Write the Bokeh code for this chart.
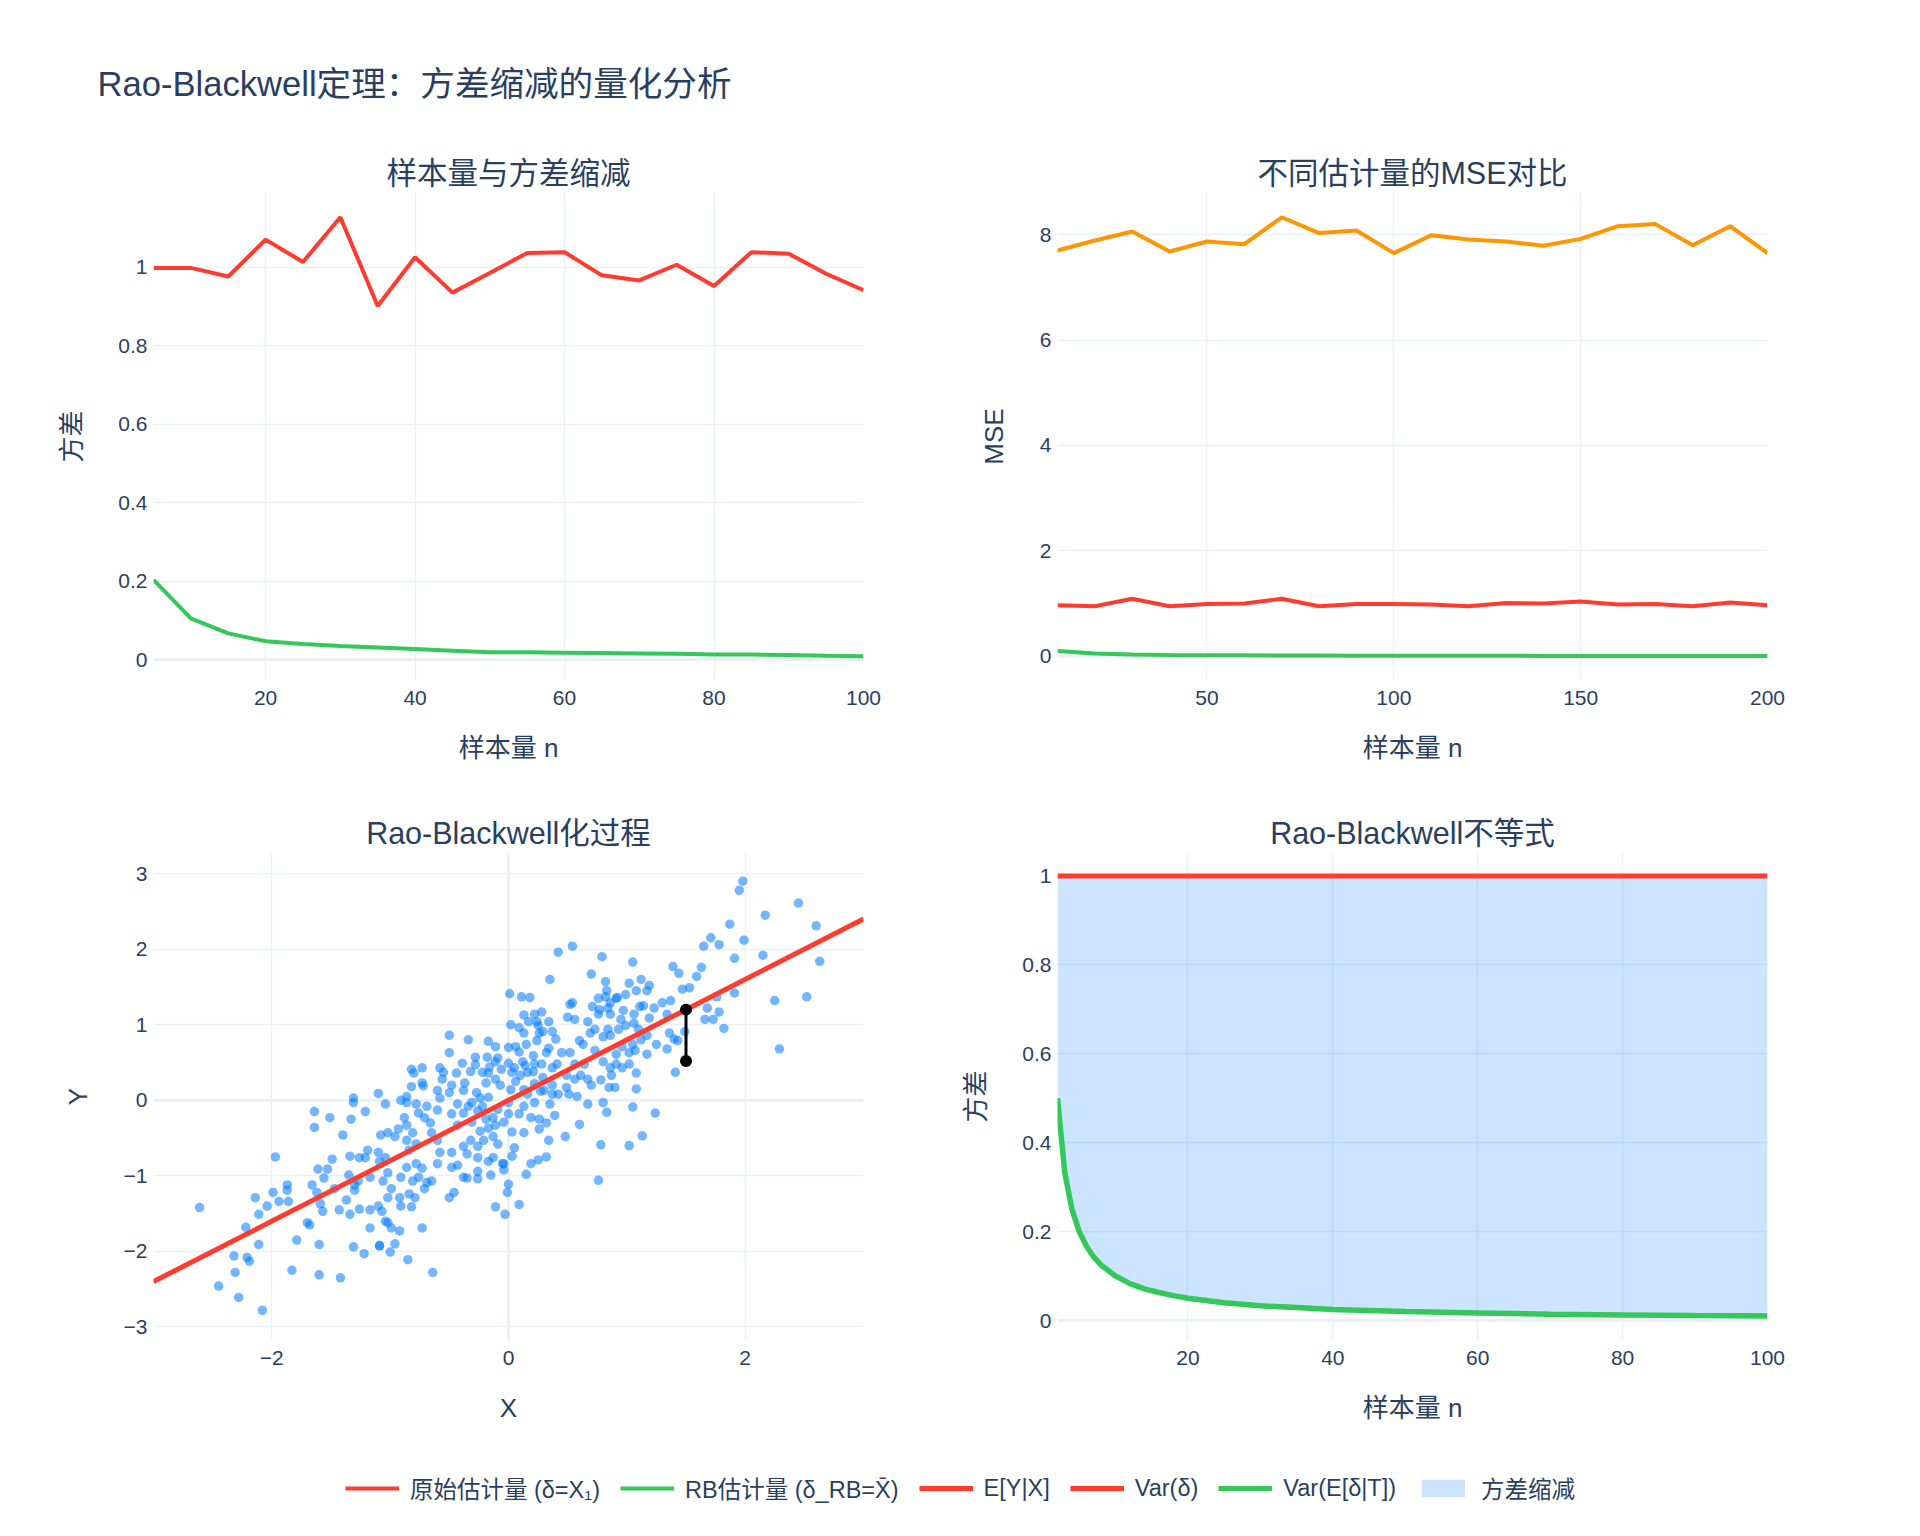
from bokeh.plotting import figure
from bokeh.models import (Range1d, Legend, LegendItem, Label, Span, FixedTicker,
                          CustomJSTickFormatter)
from bokeh.layouts import column, row
from bokeh.embed import file_html
from bokeh.resources import INLINE

# ---------------- data ----------------
# Panel 1: sample size vs variance
n1 = [5, 10, 15, 20, 25, 30, 35, 40, 45, 50, 55, 60, 65, 70, 75, 80, 85, 90, 95, 100]
var_orig1 = [0.998, 0.998, 0.976, 1.070, 1.013, 1.127, 0.901, 1.025, 0.935, 0.985,
             1.036, 1.038, 0.979, 0.966, 1.006, 0.952, 1.038, 1.034, 0.983, 0.941]
var_rb1 = [0.203, 0.105, 0.067, 0.047, 0.040, 0.035, 0.031, 0.027, 0.023, 0.019,
           0.019, 0.018, 0.017, 0.016, 0.015, 0.0135, 0.013, 0.012, 0.010, 0.0085]

# Panel 2: MSE comparison
n2 = [10, 20, 30, 40, 50, 60, 70, 80, 90, 100, 110, 120, 130, 140, 150, 160, 170, 180, 190, 200]
mse_other2 = [7.70, 7.89, 8.06, 7.68, 7.87, 7.82, 8.33, 8.03, 8.08, 7.65,
              7.99, 7.91, 7.87, 7.79, 7.92, 8.16, 8.20, 7.80, 8.16, 7.65]
mse_orig2 = [0.97, 0.95, 1.09, 0.95, 0.99, 1.00, 1.09, 0.95, 0.99, 0.99,
             0.98, 0.95, 1.01, 1.00, 1.04, 0.98, 0.99, 0.95, 1.02, 0.97]
mse_rb2 = [0.100, 0.052, 0.034, 0.026, 0.020, 0.017, 0.014, 0.013, 0.011, 0.010,
           0.009, 0.0085, 0.0078, 0.0072, 0.0068, 0.0063, 0.0059, 0.0056, 0.0052, 0.0050]

# Panel 3: Rao-Blackwellization scatter
sx = [1.98, 1.95, 2.45, 2.17, 2.60, 1.87, 1.99, 1.71, 1.65, 1.78, 2.15, 1.91, 2.63, 1.63, 1.59,
      1.39, 1.44, 1.53, 1.47, 1.91, 2.25, 2.52, 1.76, 1.68, 1.78, 1.66, 1.73, 1.82, 2.29, 1.40,
      1.43, 1.34, 1.41, 1.36, 1.49, 1.14, 1.23, 1.34, 1.30, 1.37, 1.05, 0.79, 0.70, 0.82, 0.83,
      1.02, 1.12, 1.19, 1.08, 1.17, 0.99, 0.91, 0.76, 0.71, 0.77, 0.86, 0.97, 1.06, 0.95, 1.06,
      1.19, 1.10, 1.17, 1.25, 1.02, 1.07, 1.17, 1.02, 1.08, 1.08, 1.05, 1.24, 1.13, 1.02, 0.78,
      0.83, 0.80, 0.76, 0.60, 0.48, 0.90, 0.85, 0.78, 0.86, 0.80, 0.91, 0.73, 0.84, 0.73, 0.63,
      0.61, 0.64, 0.56, 0.49, 0.67, 0.58, 0.51, 0.60, 0.56, 0.50, 0.54, 0.52, 0.35, 0.42, 0.54,
      0.37, 0.40, 0.32, 0.45, 0.52, 0.28, 0.37, 0.41, 0.29, 0.37, 0.42, 0.35, 0.39, 0.32, 0.34,
      0.32, 0.25, 0.15, 0.19, 0.09, -0.03, -0.01, 0.00, -0.11, 0.28, 0.24, 0.17, 0.22, 0.18,
      0.11, 0.01, 0.02, 0.13, 0.26, 0.15, 0.06, 0.00, 0.09, 0.12, 0.05, 0.03, 0.10, 0.16, 0.21,
      0.22, 0.27, 0.16, 0.22, 0.13, 0.09, 0.19, 0.26, 0.26, 0.13, 0.03, 0.05, 0.03, -0.04, -0.04,
      -0.09, -0.13, -0.04, 0.00, -0.09, 0.00, 0.02, -0.07, -0.11, -0.06, 0.00, -0.09, -0.11,
      -0.17, -0.34, -0.50, -0.50, -0.39, -0.28, -0.17, -0.32, -0.44, -0.55, -0.48, -0.56, -0.60,
      -0.58, -0.38, -0.31, -0.24, -0.17, -0.22, -0.26, -0.34, -0.38, -0.31, -0.19, -0.13, -0.11,
      -0.17, -0.24, -0.21, -0.26, -0.32, -0.38, -0.35, -0.26, -0.17, -0.13, -0.05, -0.15, -0.26,
      -0.35, -0.38, -0.26, -0.48, -0.48, -0.43, -0.50, -0.46, -0.64, -0.73, -0.65, -0.69, -0.71,
      -0.60, -0.58, -0.60, -0.65, -0.66, -0.71, -0.76, -0.69, -0.78, -0.73, -0.82, -0.80, -0.82,
      -0.73, -0.81, -0.78, -0.86, -0.84, -0.78, -0.73, -0.76, -0.81, -0.86, -0.91, -0.84, -0.79,
      -0.92, -0.91, -0.82, -0.85, -0.92, -0.96, -1.00, -1.09, -0.99, -1.02, -1.04, -1.17, -1.10,
      -1.07, -1.17, -1.26, -1.34, -1.37, -1.30, -1.30, -1.35, -1.27, -1.17, -1.06, -0.99, -1.02,
      -1.02, -1.04, -1.09, -1.10, -1.19, -1.21, -1.26, -1.34, -1.08, -1.02, -0.96, -0.93, -0.86,
      -0.88, -0.86, -0.91, -1.04, -1.10, -1.21, -1.31, -1.31, -1.33, -1.40, -1.51, -1.64, -1.64,
      -1.49, -1.61, -1.53, -1.56, -1.66, -1.62, -1.59, -1.57, -1.43, -1.47, -1.70, -1.68, -1.79,
      -1.83, -1.60, -1.60, -1.42, -1.31, -1.22, -1.09, -1.87, -1.87, -1.86, -1.97, -1.99, -2.04,
      -1.94, -2.11, -2.14, -2.22, -2.11, -2.21, -2.19, -2.32, -2.31, -2.45, -2.28, -2.08, -2.61,
      -0.50, -0.58, -0.72, -0.86, -0.60, -0.43, -0.48, -0.43, -0.37, -0.27, -0.19, -0.16, -0.22,
      -0.28, -0.18, -0.11, 0.09, 0.13, 0.25, 0.34, 0.29, 0.24, 0.34, 0.21, 0.14, 0.22, 0.06,
      0.13, 0.30, 0.37, 0.49, 0.56, 0.67, 0.70, 0.87, 0.96, 0.91, 0.96, 1.05, 1.12, 0.86, 0.80,
      0.69, 0.67, 0.76, 0.84, 0.86, 0.92, 0.82, 1.11, 0.93, 0.99]
sy = [2.90, 2.78, 2.61, 2.45, 2.31, 2.33, 2.12, 2.15, 2.04, 2.06, 1.92, 1.88, 1.84, 1.76, 1.64,
      1.77, 1.68, 1.49, 1.47, 1.42, 1.32, 1.37, 1.37, 1.22, 1.17, 1.07, 1.07, 0.95, 0.68, 0.81,
      0.79, 0.68, 0.37, 0.89, 0.91, 1.25, 1.22, 1.14, 1.29, 1.32, 1.83, 1.90, 1.67, 1.57, 1.45,
      1.55, 1.60, 1.52, 1.45, 1.45, 1.40, 1.35, 1.35, 1.24, 1.20, 1.14, 1.19, 1.14, 1.07, 1.02,
      1.09, 0.94, 0.86, 0.74, 0.63, 0.66, 0.61, 0.48, 0.36, 0.15, -0.09, -0.17, -0.47, -0.60, -0.59,
      -0.16, -0.03, -1.06, -0.32, -0.48, 0.17, 0.17, 0.27, 0.43, 0.51, 0.61, 0.94, 0.94, 0.66, 0.74,
      0.33, 0.48, 0.48, 0.33, -0.05, 0.05, 0.08, 0.79, 1.07, 1.10, 1.29, 1.27, 1.60, 1.96, 2.04,
      0.91, 0.81, 0.63, 0.63, 0.63, 0.48, 0.43, 0.48, 0.30, 0.20, 0.08, -0.05, -0.20, -0.30, -0.53,
      -0.75, -0.79, -0.98, -0.84, -1.38, -1.51, -1.22, -1.11, -1.41, 1.17, 1.04, 1.04, 1.14, 1.36,
      1.37, 1.41, 1.00, 0.89, 0.89, 0.74, 0.71, 0.70, 0.64, 0.51, 0.43, 0.37, 0.33, 0.37, 0.38,
      0.22, 0.12, 0.08, -0.03, -0.08, -0.18, -0.23, -0.25, -0.38, -0.43, -0.42, -0.63, -0.74, -0.92,
      -0.84, -0.58, -0.48, -0.29, -0.18, -0.12, -0.03, 0.14, 0.20, 0.28, 0.41, 0.49, 0.56, 0.71,
      0.78, 0.80, 0.86, 0.63, 0.49, 0.47, 0.36, 0.38, 0.36, 0.37, 0.20, 0.28, 0.13,
      0.03, 0.13, -0.03, 0.03, 0.04, -0.08, -0.14, -0.08, -0.17, -0.29, -0.25, -0.23, -0.33,
      -0.37, -0.41, -0.53, -0.61, -0.53, -0.61, -0.71, -0.76, -0.81, -0.76, -0.84, -0.99, -1.04,
      -1.03, -1.02, -0.94, -0.69, -0.89, -0.86, -1.29, -1.22, -2.28, -1.69, -1.07, -1.09, -1.17,
      -0.84, -0.69, -0.53, -0.43, -0.30, -0.23, -0.17, -0.08, -0.05, 0.23, 0.18, 0.36, 0.41,
      0.43, -0.43, -0.58, -0.53, -0.66, -0.84, -0.90, -1.02, -1.07, -0.89, -1.02, -1.24, -1.29,
      -1.29, -1.40, -1.41, -2.11, -1.73, -1.90, -2.01, -1.93, -1.69, -1.62, -1.60, -1.69, -1.40,
      -1.47, -1.45, -1.44, -1.51, -1.32, -1.19, -1.12, -0.99, -1.07, -1.02, -1.07, -1.17, -1.29,
      -0.96, -0.76, -0.81, -0.69, -0.66, -0.76, -0.76, -0.74, -0.46, -0.43, -0.48, -0.38, -0.33,
      -0.23, -0.03, 0.00, -0.05, 0.09, -0.15, 0.03, -0.03, -0.25, -0.46, -0.23, -0.15, -0.36,
      -0.78, -0.91, -0.91, -1.03, -1.12, -1.22, -1.37, -1.47, -1.45, -1.17, -1.62, -1.65, -1.85,
      -2.25, -1.91, -2.31, -2.35, -1.94, -2.03, -1.92, -1.12, -1.19, -1.34, -0.75, -1.22, -1.40,
      -1.34, -1.51, -1.29, -1.68, -1.91, -2.08, -2.13, -2.06, -2.28, -2.46, -2.61, -2.78, -1.42,
      0.10, 0.43, 0.19, 0.05, -0.13, -0.33, -0.18, -0.05, 0.23, 0.10, 0.23, 0.44, 0.37,
      0.57, 0.57, 0.51, 0.96, 1.13, 0.99, 1.04, 0.91, 0.79, 0.69, 0.59, 0.46, 0.48, 0.25,
      0.14, 0.13, 0.08, 0.17, 0.28, 0.28, 0.20, 0.33, 0.43, 0.48, 0.71, 0.74, 0.80, 0.86, 0.84,
      0.89, 1.04, 1.14, 1.22, 1.29, 1.36, 1.37, 1.24, 0.94, 0.99]
line_x3 = [-3.0, 3.0]
line_y3 = [-2.4, 2.4]
seg_x3 = [1.5, 1.5]
seg_y3 = [1.20, 0.52]

# Panel 4: Rao-Blackwell inequality
n4 = [2, 3, 4, 5, 6, 7, 8, 10, 12, 14, 16, 18, 20, 25, 30, 35, 40, 50, 60, 70, 80, 90, 100]
var_orig4 = [1.0] * len(n4)
var_rb4 = [0.50, 0.333, 0.25, 0.20, 0.167, 0.143, 0.125, 0.100, 0.083, 0.071, 0.063, 0.056,
           0.050, 0.040, 0.033, 0.029, 0.025, 0.020, 0.017, 0.014, 0.0125, 0.011, 0.010]

legend_labels = ["原始估计量 (δ=X₁)", "RB估计量 (δ_RB=X̄)", "E[Y|X]", "Var(δ)",
                 "Var(E[δ|T])", "方差缩减"]

# ---------------- style ----------------
FONT = "Liberation Sans, Noto Sans CJK SC"
TXT = "#2a3f5f"
GRID = "#EBF0F8"
RED = "#FF3B30"
GREEN = "#34C759"
ORANGE = "#FF9500"
BLUE = "#007AFF"

fmt = CustomJSTickFormatter(code="""
const v = Math.round(tick * 1000) / 1000;
const s = String(Math.abs(v));
return v < 0 ? "\\u2212" + s : s;
""")


def make_fig(title, xr, yr, xticks, yticks, xlabel, ylabel, left, right, top, bottom,
             zero_x=False):
    p = figure(frame_width=710, frame_height=488, x_range=Range1d(*xr), y_range=Range1d(*yr),
               output_backend="svg", toolbar_location=None,
               min_border_left=left, min_border_right=right,
               min_border_top=top, min_border_bottom=bottom,
               background_fill_color="white", border_fill_color="white",
               outline_line_color=None)
    p.title.text = title
    p.title.align = "center"
    p.title.text_font = FONT
    p.title.text_font_size = "30.5px"
    p.title.text_font_style = "normal"
    p.title.text_color = TXT
    p.title.standoff = 6
    for ax in (p.xaxis[0], p.yaxis[0]):
        ax.axis_line_color = None
        ax.major_tick_line_color = None
        ax.minor_tick_line_color = None
        ax.major_tick_out = 0
        ax.major_tick_in = 0
        ax.minor_tick_out = 0
        ax.minor_tick_in = 0
        ax.major_label_text_font = FONT
        ax.major_label_text_font_size = "21px"
        ax.major_label_text_color = TXT
        ax.axis_label_text_font = FONT
        ax.axis_label_text_font_size = "26px"
        ax.axis_label_text_font_style = "normal"
        ax.axis_label_text_color = TXT
        ax.formatter = fmt
    p.xaxis[0].ticker = FixedTicker(ticks=xticks)
    p.yaxis[0].ticker = FixedTicker(ticks=yticks)
    p.xaxis[0].axis_label = xlabel
    p.yaxis[0].axis_label = ylabel
    p.xaxis[0].major_label_standoff = 10
    p.yaxis[0].major_label_standoff = 6
    p.xaxis[0].axis_label_standoff = 25
    p.yaxis[0].axis_label_standoff = 28
    p.xgrid.grid_line_color = GRID
    p.ygrid.grid_line_color = GRID
    p.xgrid.grid_line_width = 1.5
    p.ygrid.grid_line_width = 1.5
    p.add_layout(Span(location=0, dimension="width", line_color=GRID, line_width=3,
                      level="underlay"))
    if zero_x:
        p.add_layout(Span(location=0, dimension="height", line_color=GRID, line_width=3,
                          level="underlay"))
    return p


# Panel 1
p1 = make_fig("样本量与方差缩减", (5, 100), (-0.053, 1.19), [20, 40, 60, 80, 100],
              [0, 0.2, 0.4, 0.6, 0.8, 1], "样本量 n", "方差", 153, 70, 72, 86)
p1.line(n1, var_orig1, line_color=RED, line_width=4)
p1.line(n1, var_rb1, line_color=GREEN, line_width=4)

# Panel 2
p2 = make_fig("不同估计量的MSE对比", (10, 200), (-0.46, 8.80), [50, 100, 150, 200],
              [0, 2, 4, 6, 8], "样本量 n", "MSE", 124, 153, 72, 86)
p2.line(n2, mse_other2, line_color=ORANGE, line_width=4)
p2.line(n2, mse_orig2, line_color=RED, line_width=4)
p2.line(n2, mse_rb2, line_color=GREEN, line_width=4)

# Panel 3
p3 = make_fig("Rao-Blackwell化过程", (-3, 3), (-3.18, 3.28), [-2, 0, 2],
              [-3, -2, -1, 0, 1, 2, 3], "X", "Y", 153, 70, 86, 100, zero_x=True)
p3.scatter(sx, sy, size=9.5, fill_color=BLUE, fill_alpha=0.55, line_color=None)
p3.line(line_x3, line_y3, line_color=RED, line_width=5)
p3.line(seg_x3, seg_y3, line_color="black", line_width=3)
p3.scatter(seg_x3, seg_y3, size=12, fill_color="black", line_color=None)

# Panel 4
p4 = make_fig("Rao-Blackwell不等式", (2, 100), (-0.045, 1.053), [20, 40, 60, 80, 100],
              [0, 0.2, 0.4, 0.6, 0.8, 1], "样本量 n", "方差", 124, 153, 86, 100)
p4.varea(x=n4, y1=var_rb4, y2=var_orig4, fill_color=BLUE, fill_alpha=0.2)
p4.line(n4, var_orig4, line_color=RED, line_width=5)
p4.line(n4, var_rb4, line_color=GREEN, line_width=5.5)

# Header with main title
hdr = figure(width=1920, height=120, x_range=Range1d(0, 1920), y_range=Range1d(0, 120),
             output_backend="svg", toolbar_location=None, min_border=0,
             outline_line_color=None, background_fill_color="white")
hdr.axis.visible = False
hdr.grid.visible = False
hdr.add_layout(Label(x=97, y=37, text="Rao-Blackwell定理：方差缩减的量化分析",
                     text_font=FONT, text_font_size="34.6px", text_color=TXT,
                     text_baseline="middle", text_align="left"))

# Legend figure: renderers reuse the real series, lying far outside this figure's view
lg = figure(width=1920, height=96, x_range=Range1d(-1000, -999),
            y_range=Range1d(-1000, -999), output_backend="svg", toolbar_location=None,
            min_border=0, outline_line_color=None, background_fill_color="white")
lg.axis.visible = False
lg.grid.visible = False
r_a = lg.line(n1, var_orig1, line_color=RED, line_width=4)
r_b = lg.line(n1, var_rb1, line_color=GREEN, line_width=4)
r_c = lg.line(line_x3, line_y3, line_color=RED, line_width=5)
r_d = lg.line(n4, var_orig4, line_color=RED, line_width=5)
r_e = lg.line(n4, var_rb4, line_color=GREEN, line_width=5)
r_f = lg.varea(x=n4, y1=var_rb4, y2=var_orig4, fill_color=BLUE, fill_alpha=0.2)
legend = Legend(items=[LegendItem(label=t, renderers=[r]) for t, r in
                       zip(legend_labels, [r_a, r_b, r_c, r_d, r_e, r_f])],
                orientation="horizontal", location="center", label_text_font=FONT,
                label_text_font_size="23.5px", label_text_color=TXT, glyph_width=54,
                glyph_height=22, label_standoff=11, spacing=20, padding=0, margin=0,
                border_line_color=None, background_fill_alpha=0)
lg.add_layout(legend, "center")

layout = column(hdr, row(p1, p2), row(p3, p4), lg)
open("out.html", "w").write(file_html(layout, INLINE))
